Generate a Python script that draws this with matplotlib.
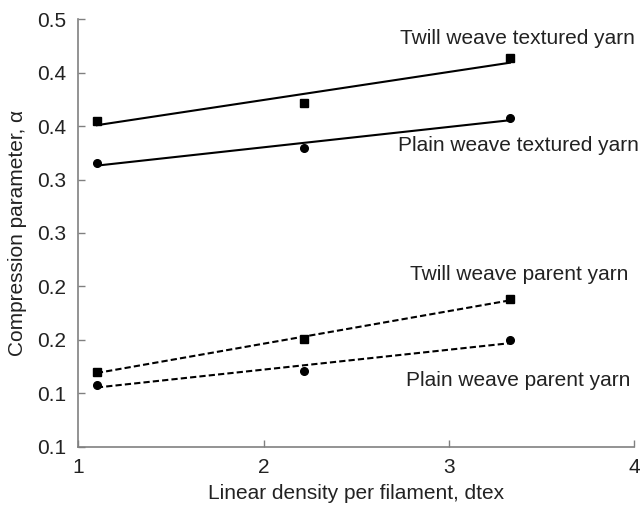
import numpy as np
import matplotlib
matplotlib.use("Agg")
import matplotlib.pyplot as plt

plt.rcParams['font.family'] = ['Liberation Sans', 'DejaVu Sans']

x_vals = [1.10, 2.22, 3.33]
twill_textured = [0.405, 0.422, 0.4635]
plain_textured = [0.3655, 0.3795, 0.408]
twill_parent = [0.170, 0.201, 0.238]
plain_parent = [0.158, 0.171, 0.1995]

series_labels = ["Twill weave textured yarn", "Plain weave textured yarn",
                 "Twill weave parent yarn", "Plain weave parent yarn"]

y_ticks = [0.10, 0.15, 0.20, 0.25, 0.30, 0.35, 0.40, 0.45, 0.50]
y_tick_labels = ["0.1", "0.1", "0.2", "0.2", "0.3", "0.3", "0.4", "0.4", "0.5"]
x_ticks = [1, 2, 3, 4]
x_tick_labels = ["1", "2", "3", "4"]

fig = plt.figure(figsize=(6.41, 5.08), dpi=100)
ax = fig.add_axes([0.1222, 0.1207, 0.8668, 0.8413])

text_color = '#222222'
spine_color = '#808080'

def plot_series(xs, ys, marker, ms, ls):
    xs = np.array(xs); ys = np.array(ys)
    ax.plot(xs, ys, linestyle='none', marker=marker, ms=ms, color='black', zorder=3)
    k, b = np.polyfit(xs, ys, 1)
    xf = np.array([xs.min(), xs.max()])
    ax.plot(xf, k * xf + b, color='black', lw=1.5, linestyle=ls, zorder=2)

plot_series(x_vals, twill_textured, 's', 6, '-')
plot_series(x_vals, plain_textured, 'o', 5.5, '-')
plot_series(x_vals, twill_parent, 's', 6, (0, (3, 1.5)))
plot_series(x_vals, plain_parent, 'o', 5.5, (0, (3, 1.5)))

fs = 15
ax.text(4.006, 0.4769, series_labels[0], ha='right', va='baseline', fontsize=fs, color=text_color, clip_on=False)
ax.text(4.024, 0.3765, series_labels[1], ha='right', va='baseline', fontsize=fs, color=text_color, clip_on=False)
ax.text(3.970, 0.2563, series_labels[2], ha='right', va='baseline', fontsize=fs, color=text_color, clip_on=False)
ax.text(3.979, 0.1572, series_labels[3], ha='right', va='baseline', fontsize=fs, color=text_color, clip_on=False)

ax.set_xlim(1, 4)
ax.set_ylim(0.1, 0.5)
ax.set_xticks(x_ticks)
ax.set_xticklabels(x_tick_labels)
ax.set_yticks(y_ticks)
ax.set_yticklabels(y_tick_labels)
ax.tick_params(direction='in', length=5, width=1, color=spine_color,
               labelsize=15, labelcolor=text_color)
ax.tick_params(axis='x', pad=8)
ax.tick_params(axis='y', pad=9)
for s in ['top', 'right']:
    ax.spines[s].set_visible(False)
for s in ['left', 'bottom']:
    ax.spines[s].set_color(spine_color)
    ax.spines[s].set_linewidth(1.2)

ax.set_xlabel("Linear density per filament, dtex", fontsize=15, color=text_color, labelpad=5)
ax.set_ylabel("Compression parameter, α", fontsize=15, color=text_color, labelpad=7)

fig.savefig("out.png", dpi=100)
